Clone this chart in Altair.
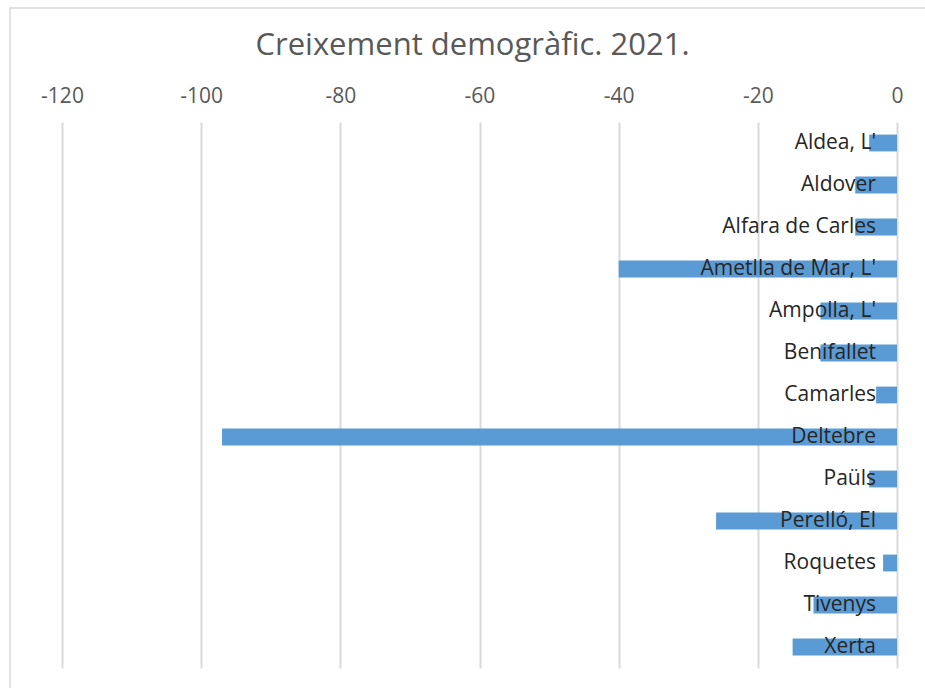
import altair as alt
import pandas as pd

municipis = ["Aldea, L'", "Aldover", "Alfara de Carles", "Ametlla de Mar, L'",
             "Ampolla, L'", "Benifallet", "Camarles", "Deltebre", "Paüls",
             "Perelló, El", "Roquetes", "Tivenys", "Xerta"]
creixement = [-4, -6, -6, -40, -11, -11, -3, -97, -4, -26, -2, -12, -15]
ticks = [-120, -100, -80, -60, -40, -20, 0]

df = pd.DataFrame({"municipi": municipis, "creixement": creixement})

FONT = "Open Sans"

x_scale = alt.Scale(domain=[-120, 0], nice=False, zero=False)
y_enc = alt.Y("municipi:N", sort=municipis,
              scale=alt.Scale(paddingInner=0.6, paddingOuter=0.3), axis=None)

frame = alt.Chart(df).mark_rect(
    fillOpacity=0, stroke="#d9d9d9", strokeWidth=1.5
).encode(
    x=alt.value(-52), x2=alt.value(900), y=alt.value(-114), y2=alt.value(600)
).transform_filter(alt.datum.municipi == municipis[0])

bars = alt.Chart(df).mark_bar(color="#5b9bd5").encode(
    x=alt.X("creixement:Q", scale=x_scale,
            axis=alt.Axis(orient="top", values=ticks, title=None,
                          domain=False, ticks=False, grid=True,
                          gridColor="#d9d9d9", gridWidth=2,
                          labelExpr="'' + datum.value",
                          labelFlush=False, labelOverlap=False,
                          labelFont=FONT, labelFontSize=21,
                          labelColor="#595959", labelPadding=16)),
    y=y_enc,
)

labels = alt.Chart(df).mark_text(
    align="right", baseline="middle", dx=-21, font=FONT, fontSize=21,
    color="#262626"
).encode(
    x=alt.datum(0, scale=x_scale),
    y=y_enc,
    text="municipi:N",
)

chart = alt.layer(frame, bars, labels).properties(
    width=835, height=546,
    title=alt.Title("Creixement demogràfic. 2021.", font=FONT, fontSize=31,
                    fontWeight="normal", color="#595959", anchor="middle",
                    offset=-55, dx=-7),
    autosize=alt.AutoSizeParams(type="none"),
    padding={"left": 62, "top": 122, "right": 28, "bottom": 20},
).configure_view(stroke=None)

chart.save("out.html", embed_options={"renderer": "svg", "actions": False})
